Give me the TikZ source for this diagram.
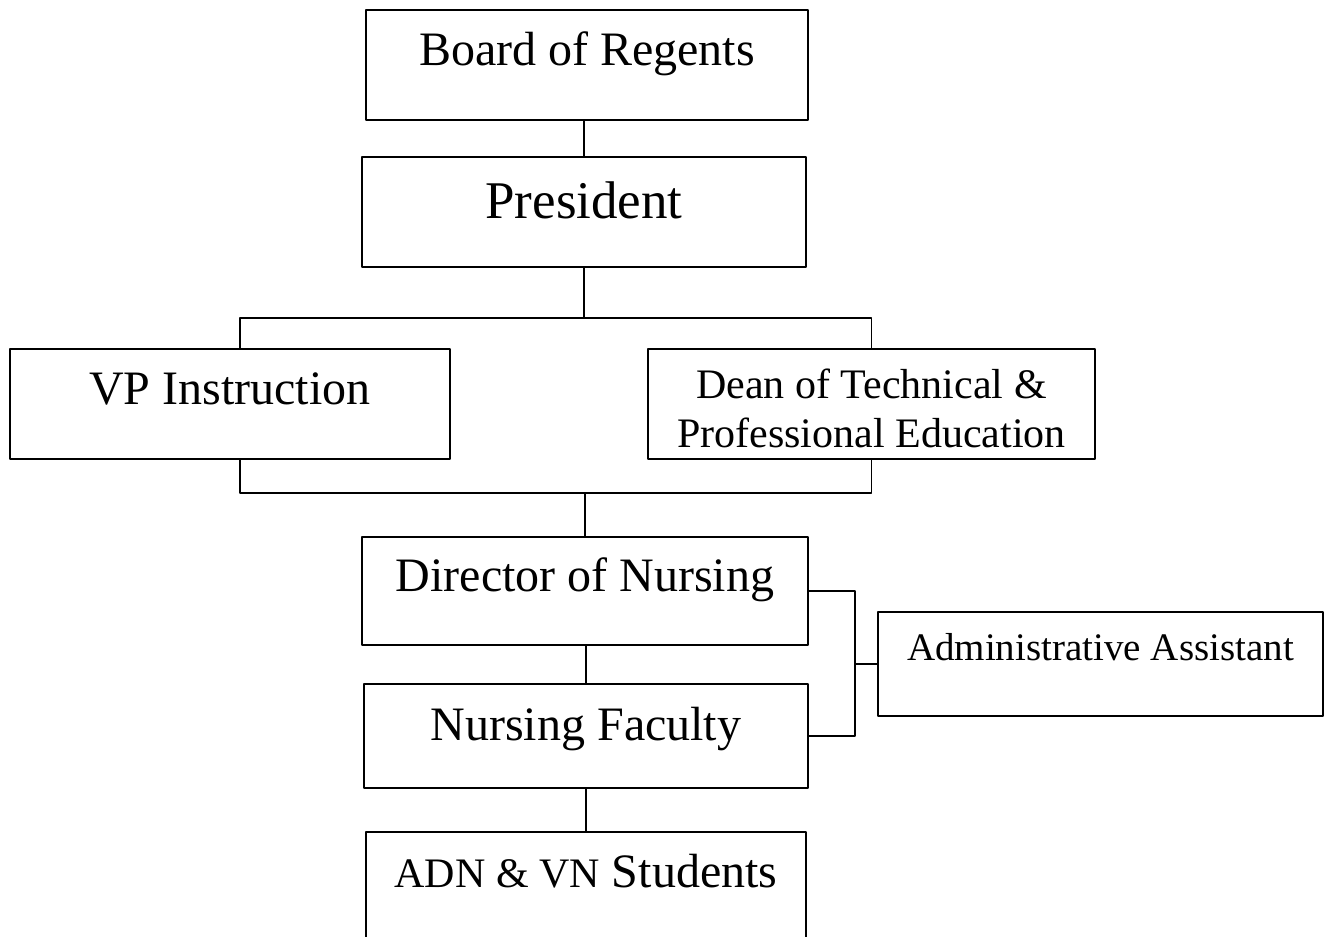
\documentclass[tikz,border=0pt]{standalone}
\usepackage{fontspec}
\setmainfont{Liberation Serif}
\tikzset{
  orgbox/.style={draw, line width=1.6pt, inner sep=0pt, minimum width=444pt, minimum height=110pt,
    font=\fontsize{48}{55}\selectfont, text height=20pt, text depth=20pt},
  link/.style={line width=1.6pt}
}
\begin{document}
\begin{tikzpicture}[x=1pt, y=-1pt, line join=round]
  \clip (0,0) rectangle (1331,937);
  % boxes
  \node[orgbox, minimum width=442pt] (board) at (587,65) {Board of Regents};
  \node[orgbox, font=\fontsize{53}{60}\selectfont, text height=26pt, text depth=14pt] (pres) at (584,212) {President};
  \node[orgbox, minimum width=440pt] (vp) at (230,404) {VP Instruction};
  \node[orgbox, minimum width=447pt, align=center, font=\fontsize{42}{49}\selectfont,
        text height={}, text depth={}] (dean) at (871.5,404)
        {\rule{0pt}{38.7pt}Dean of Technical \&\\Professional Education};
  \node[orgbox, minimum width=446pt, minimum height=108pt] (dir) at (585,591) {Director of Nursing};
  \node[orgbox, minimum height=104pt, text height=24pt, text depth=16pt] (fac) at (586,736) {Nursing Faculty};
  \node[orgbox, minimum width=440pt] (adn) at (586,887)
        {{\fontsize{42}{49}\selectfont ADN \& VN} Students};
  \node[orgbox, minimum width=445pt, minimum height=104pt, font=\fontsize{39}{46}\selectfont,
        text height=16pt, text depth=24pt] (admin) at (1100.5,664) {Administrative Assistant};
  % connectors
  \coordinate (bus1) at (585,318);
  \coordinate (bus2) at (587,493);
  \coordinate (brk) at (855,660);
  \draw[link] (pres.north |- board.south) -- (pres.north);
  \draw[link] (pres.south) -- (pres.south |- bus1);
  \draw[link] ([xshift=10pt]vp.north) |- (dean.north |- bus1) -- (dean.north);
  \draw[link] ([xshift=10pt]vp.south) |- (dean.south |- bus2) -- (dean.south);
  \draw[link] (dir.north |- bus2) -- (dir.north);
  \draw[link] (fac.north |- dir.south) -- (fac.north);
  \draw[link] (fac.south) -- (adn.north);
  \draw[link] (dir.east) -| (brk |- fac.east) -- (fac.east);
  \draw[link] (brk |- admin.west) -- (admin.west);
\end{tikzpicture}
\end{document}
